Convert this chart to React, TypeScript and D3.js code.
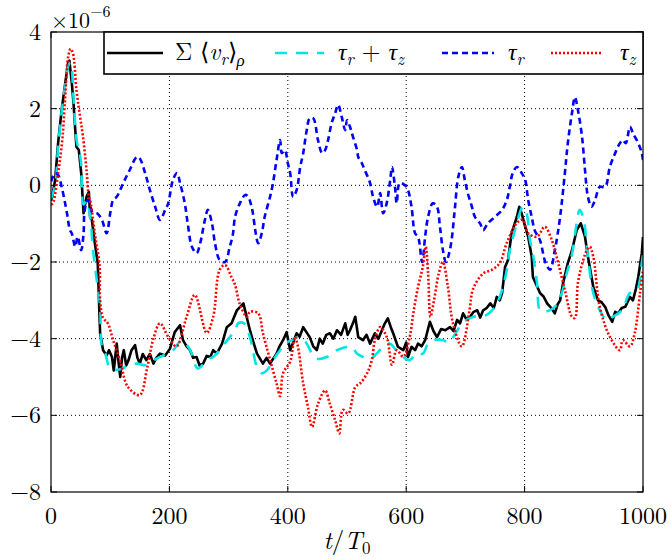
import React from "react";
import * as d3 from "d3";

const xTicks = [0, 200, 400, 600, 800, 1000];
const yTicks = [4, 2, 0, -2, -4, -6, -8];

const blackT = [0,2,7,12,18,24,29,31,35,38,41,43,47,51,55,60,64,66,69,74,79,81,83,88,94,98,103,106,111,114,117,120,123,127,131,136,142,146,150,155,161,167,173,178,184,193,201,209,218,223,229,235,240,246,251,257,263,269,274,280,289,297,305,314,325,336,342,348,358,364,370,381,386,392,398,404,409,415,420,426,437,443,449,454,459,465,471,477,483,490,497,501,505,510,514,519,527,533,539,547,553,559,564,569,574,578,586,595,600,603,609,615,620,626,632,640,646,652,659,666,674,680,686,691,696,702,708,714,720,725,730,736,742,748,753,758,762,767,772,778,787,791,795,801,806,812,814,820,826,832,838,845,851,856,860,865,873,880,888,895,902,907,916,924,930,936,942,948,953,958,964,970,978,983,988,992,998,1000];
const blackV = [-0.4,-0.3,0.14,1.1,1.97,2.66,3.22,3.25,2.7,2.15,1.44,1.0,0.92,0.32,-0.73,-0.3,-0.17,-0.82,-0.9,-1.5,-2.04,-3.0,-3.86,-4.3,-4.44,-4.3,-4.48,-4.83,-4.13,-4.6,-5.0,-4.5,-4.3,-4.7,-4.56,-4.3,-4.17,-4.5,-4.65,-4.4,-4.56,-4.4,-4.65,-4.5,-4.39,-4.44,-4.26,-3.83,-3.65,-4.04,-4.2,-4.3,-4.5,-4.48,-4.7,-4.65,-4.45,-4.48,-4.3,-4.39,-4.13,-3.7,-3.6,-3.26,-3.08,-3.78,-4.1,-4.39,-4.65,-4.5,-4.65,-4.39,-4.2,-4.04,-3.83,-4.3,-4.1,-3.86,-3.95,-3.7,-3.96,-4.2,-4.3,-4.0,-4.13,-3.9,-3.86,-4.0,-3.78,-3.9,-3.6,-3.9,-3.78,-3.6,-3.43,-3.96,-4.04,-3.9,-4.13,-3.86,-4.0,-3.78,-3.6,-3.47,-3.7,-3.86,-4.21,-4.3,-4.1,-4.48,-4.21,-4.3,-4.13,-4.2,-4.04,-3.56,-3.8,-3.96,-3.75,-3.78,-3.7,-3.8,-3.51,-3.6,-3.34,-3.5,-3.43,-3.3,-3.26,-3.45,-3.26,-3.2,-3.08,-3.2,-2.91,-3.0,-2.81,-2.13,-1.95,-1.25,-0.82,-0.56,-0.73,-1.08,-1.34,-1.86,-2.39,-2.6,-2.81,-2.9,-3.08,-3.2,-3.34,-3.1,-3.0,-2.55,-2.03,-1.7,-1.17,-0.99,-1.34,-1.86,-2.65,-3.0,-3.05,-3.17,-3.4,-3.56,-3.3,-3.34,-3.2,-3.17,-2.91,-3.0,-2.7,-2.39,-1.77,-1.35];

const cyanT = [0,7,12,18,24,30,33,38,43,50,55,60,66,71,78,83,86,92,100,117,130,145,161,175,189,206,221,235,248,263,276,289,300,311,316,326,336,348,356,365,375,387,395,407,417,428,441,449,466,483,508,517,539,550,561,572,583,595,606,617,628,637,646,663,671,697,714,736,750,762,770,775,785,797,803,809,813,821,826,834,851,863,871,880,888,893,900,905,916,927,939,949,964,978,990,998,1000];
const cyanV = [-0.35,0.0,1.0,1.9,2.6,3.15,3.2,2.3,1.2,0.7,-0.5,-0.4,-0.8,-1.69,-2.55,-3.17,-4.21,-4.4,-4.78,-4.8,-4.7,-4.65,-4.69,-4.55,-4.44,-4.3,-4.04,-4.3,-4.78,-4.56,-4.45,-4.21,-4.0,-3.78,-3.6,-3.6,-3.96,-4.74,-4.9,-4.82,-4.56,-4.3,-4.13,-4.04,-3.96,-4.04,-4.39,-4.52,-4.48,-4.3,-4.21,-4.39,-4.52,-4.39,-4.21,-4.13,-4.3,-4.48,-4.56,-4.39,-4.39,-4.13,-4.04,-4.04,-4.1,-3.56,-3.43,-3.38,-3.17,-2.73,-2.2,-1.7,-1.1,-0.56,-0.7,-1.43,-1.7,-2.55,-3.26,-3.3,-3.17,-2.81,-2.3,-1.8,-0.99,-0.64,-0.9,-1.6,-2.81,-3.26,-3.51,-3.43,-3.26,-2.81,-2.73,-2.03,-1.8];

const blueT = [0,7,12,18,27,32,35,41,45,51,55,57,63,70,78,86,94,100,105,111,122,133,145,150,159,167,176,184,193,198,206,213,218,226,231,238,246,252,260,265,272,277,285,294,302,307,311,319,328,333,340,345,350,356,361,370,375,381,387,390,395,400,404,409,415,421,426,432,437,443,451,458,463,468,474,480,485,491,497,500,505,510,517,519,525,530,539,544,551,556,561,567,573,576,581,584,589,598,603,609,615,620,627,632,637,645,652,657,662,667,671,676,682,688,694,699,704,711,716,725,730,738,750,762,770,775,780,787,795,801,806,812,817,826,835,843,851,860,868,873,880,885,890,897,902,907,913,919,927,936,944,953,961,966,971,978,983,992,998,1000];
const blueV = [0.1,0.32,0.27,-0.04,-0.73,-1.17,-1.25,-1.6,-1.34,-1.69,-1.25,-0.64,-0.38,-0.7,-0.73,-0.9,-1.25,-0.73,-0.38,-0.3,0.06,0.4,0.74,0.7,0.32,-0.12,-0.56,-0.9,-0.64,-0.47,0.14,0.32,0.06,-0.47,-1.0,-1.6,-1.77,-1.51,-0.9,-0.64,-1.0,-1.51,-1.95,-2.0,-1.6,-1.3,-0.82,-0.47,-0.25,-0.3,-0.64,-1.17,-1.51,-1.25,-0.82,-0.3,0.06,0.66,1.18,0.84,0.92,0.58,0.32,-0.3,-0.12,0.48,0.84,1.44,1.75,1.75,1.18,0.84,0.92,1.18,1.62,1.88,2.1,1.79,1.44,1.7,1.53,1.27,0.92,0.74,0.58,0.4,0.06,-0.3,-0.56,-0.2,-0.73,-0.47,0.14,0.48,-0.04,-0.47,0.06,0.0,-0.12,-0.56,-1.25,-1.34,-2.0,-1.34,-0.82,-0.47,-0.56,-1.08,-1.69,-2.0,-1.86,-1.5,-0.64,0.22,0.48,0.14,-0.2,-0.56,-0.82,-1.0,-1.17,-0.99,-0.82,-0.64,-0.38,-0.04,0.32,0.48,0.32,0.14,-0.38,-0.82,-1.17,-1.43,-2.0,-2.2,-1.7,-0.82,0.32,1.1,1.88,2.3,1.97,1.27,0.4,-0.3,-0.56,-0.38,-0.04,-0.04,0.48,0.84,1.1,1.18,1.1,1.53,1.36,1.1,0.84,0.66];

const redT = [0,3,12,19,24,29,33,37,43,49,54,60,64,66,74,82,83,88,96,105,117,130,150,162,173,184,198,212,229,243,263,274,285,294,305,311,319,331,336,350,358,370,381,387,392,404,412,417,426,434,441,451,463,471,480,487,493,502,514,522,534,542,547,556,567,576,584,595,606,612,620,628,633,637,641,647,655,662,670,679,694,707,713,730,745,758,770,787,797,806,821,834,846,854,868,880,885,890,899,905,910,916,927,944,961,966,978,986,995,1000];
const redV = [-0.5,-0.47,0.32,1.18,2.3,3.35,3.56,3.45,2.49,1.8,1.27,0.4,-0.3,-0.38,-1.25,-2.1,-3.0,-3.46,-3.6,-4.04,-4.6,-5.26,-5.47,-4.8,-4.0,-3.6,-3.95,-4.2,-3.43,-2.86,-3.85,-3.43,-2.2,-2.08,-2.4,-2.6,-3.1,-3.43,-3.3,-3.34,-3.86,-4.55,-5.17,-5.5,-4.9,-4.6,-3.95,-4.2,-5.17,-5.78,-6.3,-5.7,-5.35,-5.7,-6.13,-6.47,-5.86,-5.95,-5.26,-5.17,-4.9,-4.55,-4.04,-3.7,-3.95,-4.68,-4.3,-4.47,-3.95,-3.34,-2.65,-2.13,-1.6,-2.3,-3.43,-3.0,-2.3,-2.0,-2.6,-3.6,-4.2,-3.25,-2.7,-2.3,-2.2,-2.03,-1.5,-0.98,-0.9,-1.25,-1.34,-1.08,-1.43,-1.86,-2.73,-3.43,-3.46,-2.55,-1.95,-1.7,-1.6,-1.86,-3.17,-3.95,-4.3,-4.04,-4.2,-3.86,-2.81,-2.2];

const L = 51, R = 643, T = 32, B = 492;
const FS = { fontFamily: "'Latin Modern Roman'" };

export default function App() {
  const x = d3.scaleLinear().domain([0, 1000]).range([L, R]);
  const y = d3.scaleLinear().domain([-8, 4]).range([B, T]);
  const mk = (ts: number[], vs: number[], curve: any) =>
    d3.line<number>().x((_, i) => x(ts[i])).y((v) => y(v)).curve(curve)(vs) || "";
  const smooth = d3.curveCatmullRom.alpha(0.5);
  const series = [
    { d: mk(blackT, blackV, d3.curveLinear), color: "#000000", dash: "none" },
    { d: mk(cyanT, cyanV, smooth), color: "#00e6e6", dash: "12 9" },
    { d: mk(blueT, blueV, smooth), color: "#0000ff", dash: "6 4" },
    { d: mk(redT, redV, smooth), color: "#ff0000", dash: "2 2" },
  ];
  const legend = [
    { x1: 107, x2: 163, color: "#000000", dash: "none", tx: 175, kind: 0 },
    { x1: 275, x2: 324, color: "#00e6e6", dash: "12 9", tx: 338, kind: 1 },
    { x1: 442, x2: 494, color: "#0000ff", dash: "6 4", tx: 508, kind: 2 },
    { x1: 551, x2: 603, color: "#ff0000", dash: "2 2", tx: 620, kind: 3 },
  ];
  const ly = 53;
  const fs = 24;
  const sub = 17;
  const renderLabel = (k: number) => {
    if (k === 0)
      return (
        <>
          <tspan>Σ ⟨</tspan>
          <tspan fontStyle="italic">v</tspan>
          <tspan fontStyle="italic" fontSize={sub} dy={5}>r</tspan>
          <tspan dy={-5}>⟩</tspan>
          <tspan fontStyle="italic" fontSize={sub} dy={6}>ρ</tspan>
        </>
      );
    if (k === 1)
      return (
        <>
          <tspan fontStyle="italic">τ</tspan>
          <tspan fontStyle="italic" fontSize={sub} dy={5}>r</tspan>
          <tspan dy={-5}> + </tspan>
          <tspan fontStyle="italic">τ</tspan>
          <tspan fontStyle="italic" fontSize={sub} dy={5}>z</tspan>
        </>
      );
    if (k === 2)
      return (
        <>
          <tspan fontStyle="italic">τ</tspan>
          <tspan fontStyle="italic" fontSize={sub} dy={5}>r</tspan>
        </>
      );
    return (
      <>
        <tspan fontStyle="italic">τ</tspan>
        <tspan fontStyle="italic" fontSize={sub} dy={5}>z</tspan>
      </>
    );
  };
  return (
    <svg width={671} height={559} style={{ position: "absolute", left: 0, top: 0, background: "#fff" }}>
      <rect x={0} y={0} width={671} height={559} fill="#fff" />
      {xTicks.filter((t) => t > 0 && t < 1000).map((t) => (
        <line key={"gx" + t} x1={x(t)} x2={x(t)} y1={T} y2={B} stroke="#000" strokeWidth={1} strokeDasharray="1 3" />
      ))}
      {yTicks.filter((t) => t > -8 && t < 4).map((t) => (
        <line key={"gy" + t} x1={L} x2={R} y1={y(t)} y2={y(t)} stroke="#000" strokeWidth={1} strokeDasharray="1 3" />
      ))}
      {xTicks.map((t) => (
        <g key={"tx" + t}>
          <line x1={x(t)} x2={x(t)} y1={B} y2={B - 6} stroke="#000" />
          <line x1={x(t)} x2={x(t)} y1={T} y2={T + 6} stroke="#000" />
          <text x={x(t)} y={524} fontSize={fs} textAnchor="middle" style={FS}>{t}</text>
        </g>
      ))}
      {yTicks.map((t) => (
        <g key={"ty" + t}>
          <line x1={L} x2={L + 6} y1={y(t)} y2={y(t)} stroke="#000" />
          <line x1={R} x2={R - 6} y1={y(t)} y2={y(t)} stroke="#000" />
          <text x={41} y={y(t) + 8} fontSize={fs} textAnchor="end" style={FS}>{t < 0 ? "−" + Math.abs(t) : t}</text>
        </g>
      ))}
      <clipPath id="clip">
        <rect x={L} y={T} width={R - L} height={B - T} />
      </clipPath>
      <g clipPath="url(#clip)">
        {series.map((s, i) => (
          <path key={i} d={s.d} fill="none" stroke={s.color} strokeWidth={2.6} strokeDasharray={s.dash} strokeLinejoin="round" />
        ))}
      </g>
      <rect x={L} y={T} width={R - L} height={B - T} fill="none" stroke="#000" strokeWidth={1.2} />
      <rect x={104} y={T} width={R - 104} height={42} fill="#fff" stroke="#000" strokeWidth={1.6} />
      {legend.map((l, i) => (
        <g key={"lg" + i}>
          <line x1={l.x1} x2={l.x2} y1={ly} y2={ly} stroke={l.color} strokeWidth={2.6} strokeDasharray={l.dash} />
          <text x={l.tx} y={ly + 7} fontSize={fs} style={FS}>{renderLabel(l.kind)}</text>
        </g>
      ))}
      <text x={51} y={28} fontSize={22} style={FS}>
        <tspan>×10</tspan>
        <tspan fontSize={16} dy={-11}>−6</tspan>
      </text>
      <text x={347} y={549} fontSize={25} textAnchor="middle" style={FS}>
        <tspan fontStyle="italic">t</tspan>
        <tspan>/</tspan>
        <tspan fontStyle="italic">T</tspan>
        <tspan fontSize={sub} dy={5}>0</tspan>
      </text>
    </svg>
  );
}
